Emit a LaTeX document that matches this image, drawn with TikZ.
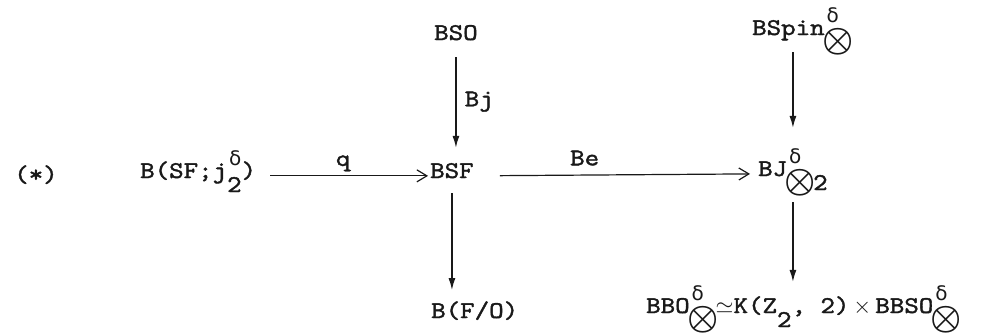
\documentclass[tikz,border=0pt]{standalone}
\usepackage{graphicx}
\usepackage{fontspec}
\setmainfont{lmmono10-regular.otf}[FakeStretch=1.15,FakeBold=1.6]
\newfontfamily\symfont{DejaVu Sans}
\usepackage{tikz}
\usetikzlibrary{arrows.meta,positioning}
\colorlet{ink}{black!90}
% stacked delta over a lowered subscript
\newcommand{\lo}[1]{\raisebox{-14pt}{#1}}
\newcommand{\tns}{\raisebox{-15pt}{\makebox[26pt]{\scalebox{3.5}{\normalsize\boldmath$\otimes$}}}}
\newcommand{\stk}[2]{\rlap{\raisebox{13pt}{\hspace{2pt}\symfont\fontsize{20}{20}\selectfont #1}}#2}
\newcommand{\mrel}[1]{\scalebox{2.3}{\normalsize$#1$}}

\begin{document}
\begin{tikzpicture}[x=1pt,y=-1pt,>=Latex,
  every node/.style={font=\fontsize{24}{28}\selectfont,inner sep=0pt,text=ink},
  obj/.style={anchor=base west},
  harr/.style={draw=ink,-{Straight Barb[length=10pt,width=12pt]},line width=1.2pt},
  varr/.style={draw=ink,-{Latex[length=12pt,width=7pt]},line width=1.6pt}]
\useasboundingbox (0,0) rectangle (985,333);
% top row
\node[obj] (bso) at (434,40) {BSO};
\node[obj] (bspin) at (752,35) {BSpin\stk{δ}{\tns}};
% middle row
\node[obj] (star) at (14,182) {(*)};
\node[obj] (bsfj) at (140,178) {B(SF;j\stk{δ}{\lo{2}})};
\node[obj] (bsf) at (430,178) {BSF};
\node[obj] (bj) at (758,176) {BJ\stk{δ}{\tns\lo{2}}};
% bottom row
\node[obj] (bbo) at (646,313) {BBO\stk{δ}{\tns}\mrel{\simeq}K(Z\lo{2}, 2)\,\mrel{\times}\,BBSO\stk{δ}{\tns}};
\node[obj] (bfo) at (431,318) {B(F/O)};
% horizontal maps
\draw[harr,shorten <=14pt,shorten >=2pt] (bsfj.mid east) -- node[above=4pt,pos=.5] (lq) {q} (bsf.mid west);
\draw[harr,shorten <=26pt,shorten >=8pt] (bsf.mid east) -- node[above=9pt,pos=.39] (lbe) {Be} (bj.mid west);
% vertical maps
\draw[varr,shorten <=17pt,shorten >=15pt] (bso.south) -- node[right=8pt] (lbj) {Bj} (bso.south |- bsf.north);
\draw[varr,shorten <=15pt,shorten >=11pt] (bsf.south) -- (bsf.south |- bfo.north);
\draw[varr,shorten <=17pt,shorten >=20pt] (bspin.base -| bj.north) -- (bj.north);
\draw[varr,shorten <=26pt,shorten >=3pt] (bj.base -| bj.south) -- (bj.south |- bbo.north);
\end{tikzpicture}
\end{document}
